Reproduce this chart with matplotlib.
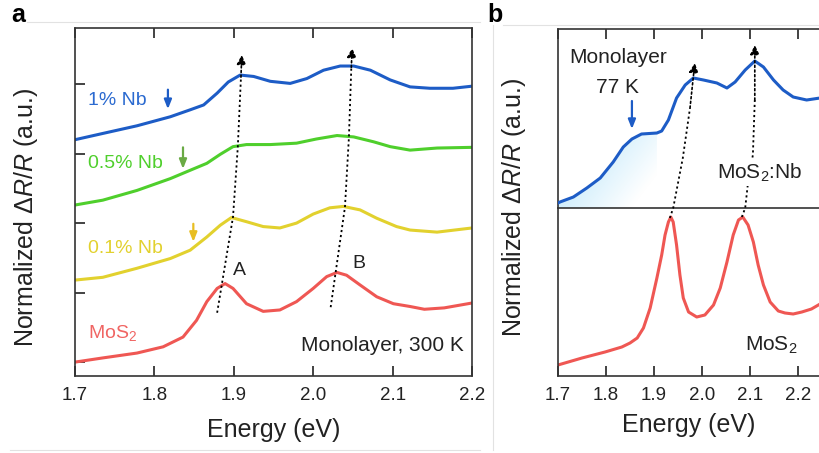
import numpy as np
import matplotlib
matplotlib.use("Agg")
import matplotlib.pyplot as plt
from matplotlib.lines import Line2D

plt.rcParams['font.family'] = ['Liberation Sans', 'DejaVu Sans']
plt.rcParams['mathtext.fontset'] = 'custom'
plt.rcParams['mathtext.rm'] = 'Liberation Sans'
plt.rcParams['mathtext.it'] = 'Liberation Sans:italic'

# ---- panel a: 300 K spectra (offset stacked) ----
blue_x = [1.700, 1.735, 1.778, 1.820, 1.845, 1.862, 1.879, 1.893, 1.908, 1.925,
          1.946, 1.971, 1.992, 2.013, 2.034, 2.051, 2.072, 2.097, 2.122, 2.147,
          2.176, 2.200]
blue_y = [3.20, 3.29, 3.40, 3.53, 3.63, 3.70, 3.87, 4.03, 4.13, 4.11,
          4.04, 4.01, 4.08, 4.20, 4.26, 4.26, 4.20, 4.06, 3.96, 3.94,
          3.94, 3.97]

green_x = [1.700, 1.735, 1.778, 1.820, 1.845, 1.866, 1.883, 1.899, 1.916, 1.946,
           1.979, 2.004, 2.030, 2.051, 2.076, 2.097, 2.122, 2.156, 2.200]
green_y = [2.26, 2.33, 2.47, 2.64, 2.76, 2.86, 2.99, 3.10, 3.13, 3.13,
           3.15, 3.21, 3.26, 3.24, 3.17, 3.10, 3.05, 3.08, 3.09]

yellow_x = [1.700, 1.735, 1.778, 1.820, 1.845, 1.866, 1.883, 1.897, 1.916, 1.937,
            1.958, 1.979, 2.000, 2.021, 2.038, 2.059, 2.080, 2.105, 2.122, 2.156,
            2.200]
yellow_y = [1.18, 1.22, 1.35, 1.49, 1.61, 1.80, 1.97, 2.08, 2.02, 1.95,
            1.93, 2.00, 2.13, 2.22, 2.24, 2.19, 2.07, 1.95, 1.90, 1.87,
            1.93]

red_x = [1.700, 1.735, 1.778, 1.811, 1.836, 1.853, 1.866, 1.879, 1.889, 1.899,
         1.916, 1.937, 1.958, 1.979, 2.000, 2.017, 2.030, 2.042, 2.059, 2.080,
         2.101, 2.122, 2.140, 2.165, 2.200]
red_y = [0.00, 0.06, 0.13, 0.22, 0.36, 0.60, 0.87, 1.06, 1.13, 1.06,
         0.84, 0.73, 0.75, 0.87, 1.06, 1.23, 1.29, 1.25, 1.11, 0.94,
         0.84, 0.80, 0.76, 0.78, 0.85]

guide_a_x = [1.879, 1.899, 1.905, 1.909, 1.910]
guide_a_y = [0.71, 2.09, 3.09, 4.10, 4.42]
guide_b_x = [2.022, 2.040, 2.045, 2.048, 2.049]
guide_b_y = [0.79, 2.23, 3.24, 4.24, 4.52]

# ---- panel b: 77 K spectra ----
nb77_x = [1.700, 1.704, 1.732, 1.760, 1.788, 1.815, 1.836, 1.854, 1.874, 1.906,
          1.916, 1.930, 1.947, 1.965, 1.982, 2.003, 2.031, 2.052, 2.069, 2.090,
          2.110, 2.128, 2.149, 2.169, 2.190, 2.218, 2.246]
nb77_y = [0.05, 0.06, 0.11, 0.20, 0.30, 0.46, 0.61, 0.69, 0.74, 0.75,
          0.77, 0.88, 1.10, 1.23, 1.30, 1.28, 1.25, 1.20, 1.26, 1.38,
          1.47, 1.41, 1.28, 1.18, 1.11, 1.08, 1.10]

mos77_x = [1.700, 1.750, 1.798, 1.833, 1.850, 1.865, 1.878, 1.892, 1.906, 1.916,
           1.923, 1.930, 1.935, 1.940, 1.947, 1.954, 1.961, 1.972, 1.989, 2.006,
           2.024, 2.038, 2.052, 2.065, 2.076, 2.085, 2.096, 2.107, 2.117, 2.128,
           2.142, 2.159, 2.173, 2.190, 2.208, 2.228, 2.246]
mos77_y = [0.11, 0.18, 0.24, 0.29, 0.33, 0.38, 0.48, 0.68, 0.98, 1.21,
           1.41, 1.54, 1.59, 1.54, 1.31, 1.01, 0.78, 0.64, 0.59, 0.61,
           0.71, 0.88, 1.14, 1.41, 1.56, 1.59, 1.51, 1.34, 1.11, 0.91,
           0.74, 0.65, 0.63, 0.62, 0.64, 0.67, 0.72]

guide_c_x = [1.933, 1.940, 1.960, 1.975, 1.985]
guide_c_y = [-0.10, 0.00, 0.50, 1.00, 1.45]
guide_d_x = [2.083, 2.090, 2.096, 2.106, 2.110, 2.110]
guide_d_y = [-0.09, 0.00, 0.26, 0.53, 1.08, 1.63]

fill_end = 1.908

BLUE = '#1d5cc6'
GREEN = '#4fcf2c'
YELLOW = '#e2d12e'
RED = '#ef5753'
TXT = '#222222'
DOTS = (0, (1.2, 1.6))


def dotted_arrow(ax, xs, ys, clip=True):
    ax.plot(xs[:-1], ys[:-1], ls=DOTS, color='k', lw=1.3,
            clip_on=clip, zorder=4)
    ax.annotate('', xy=(xs[-1], ys[-1]), xytext=(xs[-2], ys[-2]),
                arrowprops=dict(arrowstyle='-|>,head_length=0.55,head_width=0.27',
                                color='k', lw=1.2, ls=DOTS, shrinkA=0, shrinkB=0),
                annotation_clip=False, zorder=4)


def down_arrow(ax, x, y0, y1, color):
    ax.annotate('', xy=(x, y1), xytext=(x, y0),
                arrowprops=dict(arrowstyle='-|>,head_length=0.55,head_width=0.22',
                                color=color, lw=1.6, shrinkA=0, shrinkB=0))


def style_ticks(ax):
    ax.tick_params(direction='in', length=7, width=1.2, labelsize=13.5,
                   colors=TXT, pad=8)
    for s in ax.spines.values():
        s.set_linewidth(1.2)
        s.set_color('#333333')


fig = plt.figure(figsize=(8.2, 4.53), dpi=100)

# ---------------- panel a ----------------
ax = fig.add_axes([0.0915, 0.170, 0.4841, 0.768])
for xs, ys, c in [(blue_x, blue_y, BLUE), (green_x, green_y, GREEN),
                  (yellow_x, yellow_y, YELLOW), (red_x, red_y, RED)]:
    ax.plot(xs, ys, color=c, lw=2.2, solid_joinstyle='round')
dotted_arrow(ax, guide_a_x, guide_a_y)
dotted_arrow(ax, guide_b_x, guide_b_y)

ax.set_xlim(1.7, 2.2)
ax.set_ylim(-0.2, 4.806)
ax.set_xticks([1.7, 1.8, 1.9, 2.0, 2.1, 2.2])
ax.set_yticks([0, 1, 2, 3, 4])
ax.set_yticklabels([])
style_ticks(ax)
ax.tick_params(top=True, right=False)
ax.set_xlabel('Energy (eV)', fontsize=18, color=TXT, labelpad=10)
ax.set_ylabel(r'Normalized Δ$\it{R}$/$\it{R}$ (a.u.)', fontsize=18, color=TXT)
ax.yaxis.set_label_coords(-0.088, 0.455)

ax.text(1.716, 3.77, '1% Nb', color='#2b6ad0', fontsize=14, va='center')
down_arrow(ax, 1.817, 3.92, 3.64, BLUE)
ax.text(1.716, 2.86, '0.5% Nb', color=GREEN, fontsize=14, va='center')
down_arrow(ax, 1.836, 3.09, 2.78, '#6aaa45')
ax.text(1.716, 1.64, '0.1% Nb', color=YELLOW, fontsize=14, va='center')
down_arrow(ax, 1.849, 1.99, 1.73, '#e8be22')
ax.text(1.716, 0.42, 'MoS$_2$', color='#f06563', fontsize=14, va='center')
ax.text(1.899, 1.32, 'A', color=TXT, fontsize=14, va='center')
ax.text(2.049, 1.42, 'B', color=TXT, fontsize=14, va='center')
ax.text(2.190, 0.24, 'Monolayer, 300 K', color=TXT, fontsize=15,
        ha='right', va='center')

# ---------------- panel b ----------------
axb = fig.add_axes([0.6805, 0.5408, 0.3512, 0.3952])
axc = fig.add_axes([0.6805, 0.170, 0.3512, 0.3708])
axb.set_zorder(3)
axc.patch.set_visible(False)

axb.plot(nb77_x, nb77_y, color=BLUE, lw=2.2, zorder=3, solid_joinstyle='round')

# light-blue gradient shading under the low-energy shoulder
fx = [x for x in nb77_x if x <= fill_end]
fy = [y for x, y in zip(nb77_x, nb77_y) if x <= fill_end]
poly = axb.fill_between(fx, 0, fy, color='none', lw=0)
gx, gy = np.meshgrid(np.linspace(0, 1, 200), np.linspace(0, 1, 200))
grad = np.clip(0.75 * gx + 0.45 * (1 - gy), 0, 1)
cmap = matplotlib.colors.LinearSegmentedColormap.from_list(
    'shade', ['#c2e8fb', '#d6f0fc', '#ffffff'])
im = axb.imshow(grad, cmap=cmap, extent=[1.7, fill_end, 0, 0.78],
                origin='lower', aspect='auto', zorder=1)
im.set_clip_path(poly.get_paths()[0], transform=axb.transData)

axb.set_xlim(1.7, 2.3)
axb.set_ylim(0, 1.79)
axb.set_xticks([1.7, 1.8, 1.9, 2.0, 2.1, 2.2])
axb.set_yticks([])
style_ticks(axb)
axb.tick_params(top=True, bottom=False, labelbottom=False)

axb.text(1.825, 1.50, 'Monolayer', color=TXT, fontsize=15, ha='center', va='center')
axb.text(1.824, 1.21, '77 K', color=TXT, fontsize=15, ha='center', va='center')
down_arrow(axb, 1.854, 1.07, 0.79, BLUE)
dotted_arrow(axb, guide_c_x, guide_c_y, clip=False)
dotted_arrow(axb, guide_d_x, guide_d_y, clip=False)
axb.text(2.121, 0.35, 'MoS$_2$:Nb', color=TXT, fontsize=15, ha='center',
         va='center', zorder=5,
         bbox=dict(facecolor='white', edgecolor='none', pad=1))

axc.plot(mos77_x, mos77_y, color=RED, lw=2.2, solid_joinstyle='round')
axc.set_xlim(1.7, 2.3)
axc.set_ylim(0, 1.68)
axc.set_xticks([1.7, 1.8, 1.9, 2.0, 2.1, 2.2])
axc.set_yticks([])
style_ticks(axc)
axc.spines['top'].set_visible(False)
axc.text(2.144, 0.31, 'MoS$_2$', color=TXT, fontsize=15, ha='center', va='center')
axc.set_xlabel('Energy (eV)', fontsize=18, color=TXT, labelpad=10)
axc.xaxis.set_label_coords(0.455, -0.22)

fig.text(0.627, 0.543, r'Normalized Δ$\it{R}$/$\it{R}$ (a.u.)', fontsize=18,
         color=TXT, rotation=90, ha='center', va='center')

# panel letters and faint panel frame lines
fig.text(0.022, 0.967, 'a', fontsize=18, fontweight='bold', ha='center', va='center')
fig.text(0.604, 0.967, 'b', fontsize=18, fontweight='bold', ha='center', va='center')
frame = '#e2e2e2'
fig.add_artist(Line2D([27 / 820, 480 / 820], [1 - 22 / 453] * 2, color=frame, lw=0.8))
fig.add_artist(Line2D([503 / 820, 1.0], [1 - 25 / 453] * 2, color=frame, lw=0.8))
fig.add_artist(Line2D([493 / 820] * 2, [1 - 25 / 453, 1 - 450 / 453], color=frame, lw=0.8))
fig.add_artist(Line2D([10 / 820, 480 / 820], [1 - 450 / 453] * 2, color=frame, lw=0.8))

fig.savefig('out.png', dpi=100)
